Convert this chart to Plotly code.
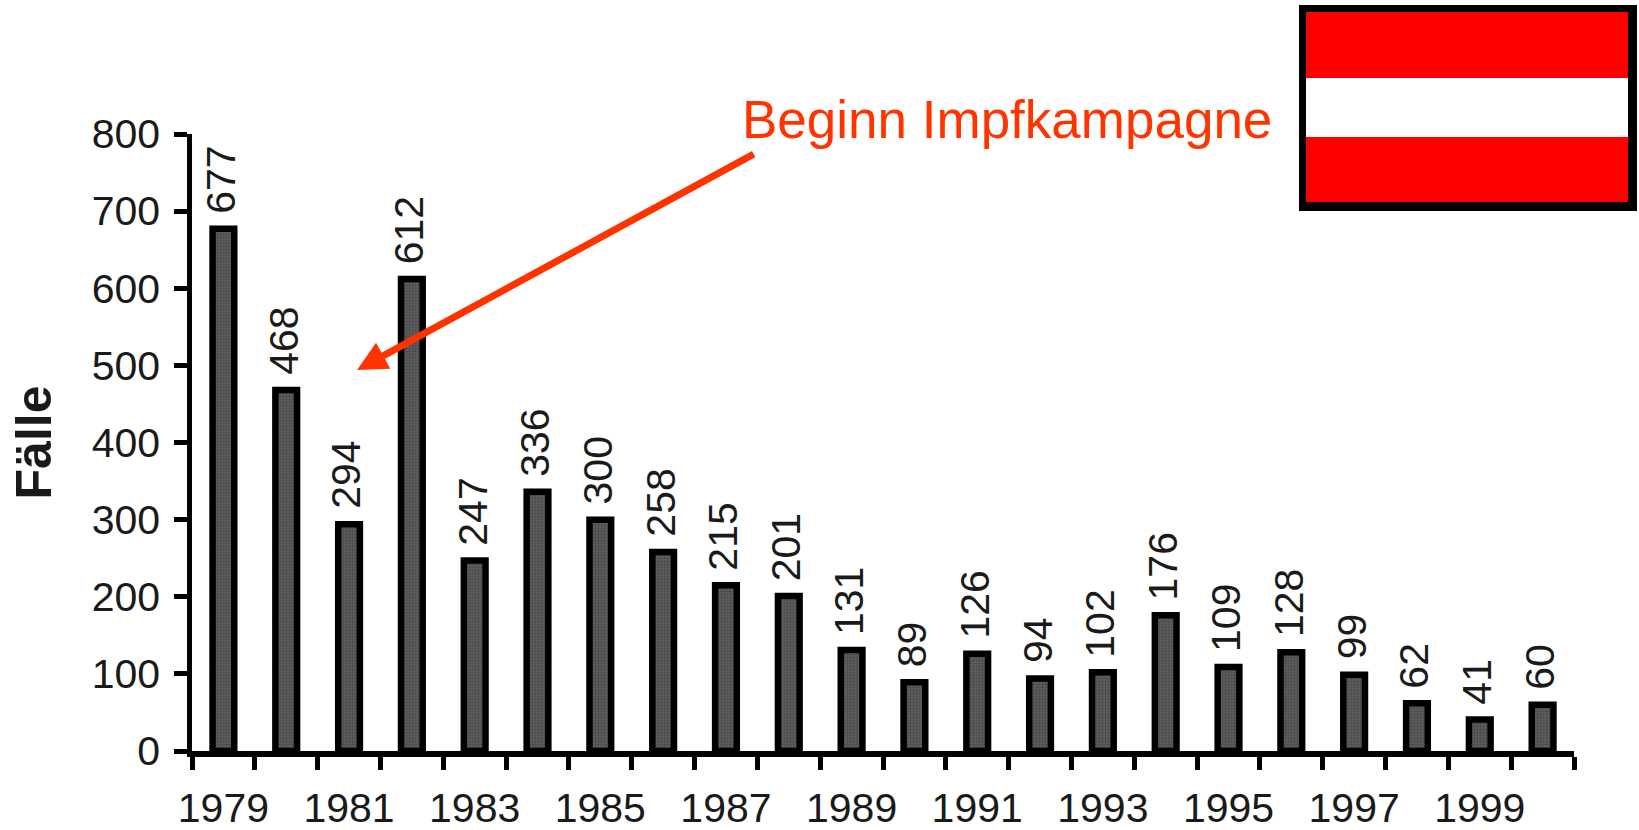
import plotly.graph_objects as go

years = [str(y) for y in range(1979, 2001)]
cases = [677, 468, 294, 612, 247, 336, 300, 258, 215, 201, 131, 89, 126, 94, 102, 176, 109, 128, 99, 62, 41, 60]
tick_labels = [y if int(y) % 2 == 1 else "" for y in years]
y_ticks = list(range(0, 900, 100))

W, H = 1639, 830
L, R, T, B = 192, 65, 134, 79
FONT = "Liberation Sans, Arial, sans-serif"
TXT = "#1a1a1a"
ORANGE = "#FF3300"

def px(v):
    return (v - L) / (W - L - R)

def py(v):
    return 1 - (v - T) / (H - T - B)

def rect(x0, y0, x1, y1, color):
    return dict(type="rect", xref="paper", yref="paper", x0=px(x0), x1=px(x1), y0=py(y0), y1=py(y1),
                fillcolor=color, line=dict(width=0), layer="above")

fig = go.Figure(go.Bar(
    x=years, y=cases, width=0.345,
    marker=dict(color="#4d4d4d", line=dict(color="#000000", width=6.5),
                pattern=dict(shape="+", size=3, solidity=0.3, fgcolor="#2e2e2e", bgcolor="#5c5c5c")),
    cliponaxis=False,
))

value_labels = [
    dict(x=i, y=v, xref="x", yref="y", text=str(v), showarrow=False, textangle=-90,
         xanchor="center", yanchor="bottom", yshift=13, xshift=-2.5,
         font=dict(family=FONT, size=41, color=TXT))
    for i, v in enumerate(cases)
]

fig.update_layout(
    width=W, height=H, margin=dict(l=L, r=R, t=T, b=B, autoexpand=False),
    paper_bgcolor="white", plot_bgcolor="white", showlegend=False,
    xaxis=dict(type="category", categoryorder="array", categoryarray=years, range=[-0.5, 21.5],
               tickmode="array", tickvals=years, ticktext=tick_labels, tickson="boundaries",
               ticks="outside", ticklen=13, tickwidth=4.5, tickcolor="black", tickangle=0,
               showline=True, linewidth=5.5, linecolor="black", showgrid=False, zeroline=False,
               tickfont=dict(family=FONT, size=41, color=TXT), ticklabelstandoff=16),
    yaxis=dict(range=[0, 800], tickmode="array", tickvals=y_ticks,
               ticks="outside", ticklen=13, tickwidth=4.5, tickcolor="black",
               showline=True, linewidth=4.5, linecolor="black", showgrid=False, zeroline=False,
               tickfont=dict(family=FONT, size=41, color=TXT), ticklabelstandoff=6,
               title=dict(text="<b>Fälle</b>", font=dict(family=FONT, size=50, color=TXT), standoff=26)),
    shapes=[
        rect(1299, 5, 1637, 211, "black"),
        rect(1306, 12, 1628, 202, "#FF0000"),
        rect(1306, 78, 1628, 137, "white"),
    ],
    annotations=value_labels + [
        dict(x=px(1007), y=py(88), xref="paper", yref="paper", text="Beginn Impfkampagne", showarrow=False,
             font=dict(family=FONT, size=53, color=ORANGE)),
        dict(x=2.127, y=494, xref="x", yref="y", ax=8.465, ay=775, axref="x", ayref="y", text="",
             showarrow=True, arrowhead=2, arrowsize=0.85, arrowwidth=7, arrowcolor=ORANGE),
    ],
)
fig.write_html("out.html", post_script="document.body.style.margin='0';", config=dict(displayModeBar=False))
